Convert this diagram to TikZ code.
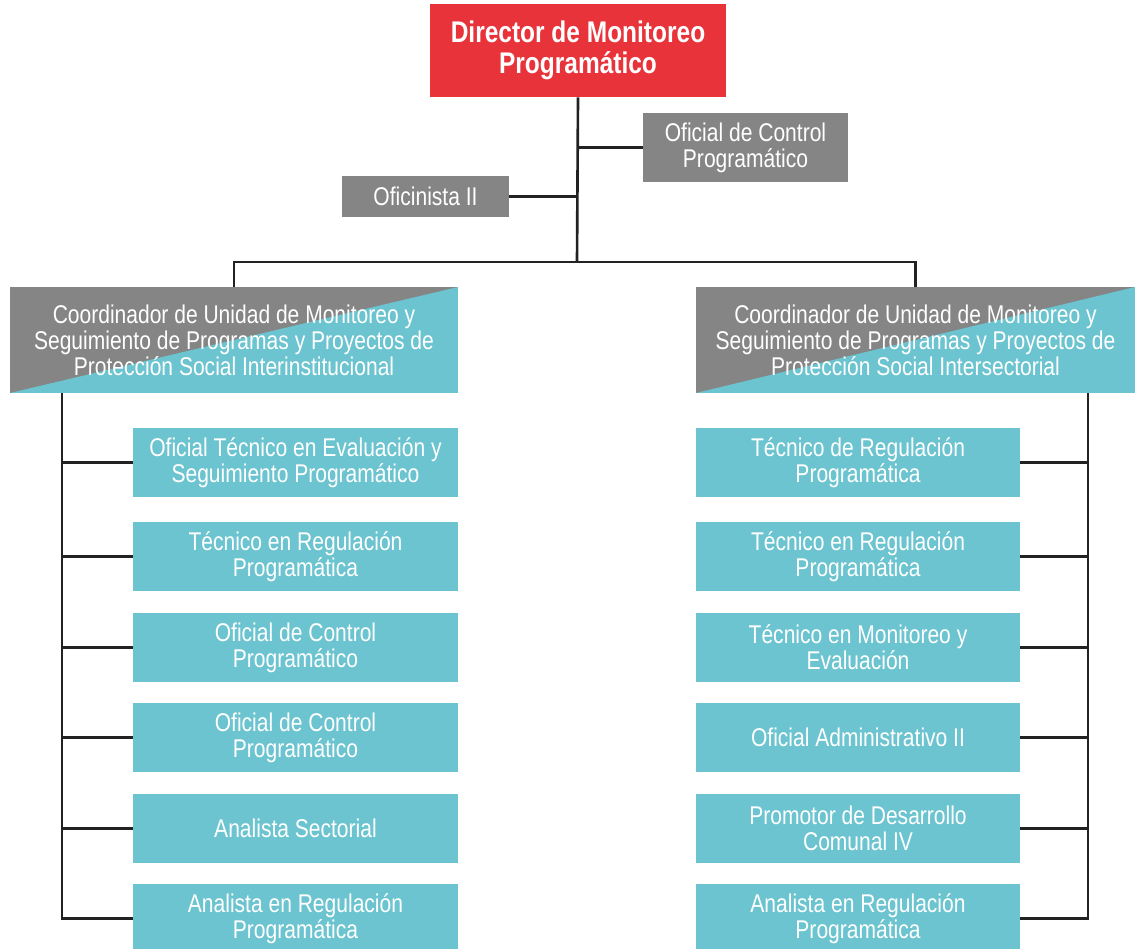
\documentclass[tikz,border=0pt]{standalone}
\usepackage{fontspec}
\setmainfont[FakeStretch=0.82]{Liberation Sans}
\usepackage{tikz}
\usetikzlibrary{calc}
\definecolor{redBox}{HTML}{E8333A}
\definecolor{grayBox}{HTML}{858585}
\definecolor{tealBox}{HTML}{6BC4CF}
\definecolor{lineColor}{HTML}{222222}

\tikzset{
    box/.style={inner sep=0pt, align=center, text=white, font=\fontsize{14.6}{14.8}\selectfont},
    director/.style={box, fill=redBox, minimum width=5.92cm, minimum height=1.86cm,
        font=\bfseries\fontsize{17}{17.6}\selectfont},
    staff/.style={box, fill=grayBox},
    coord/.style={box, fill=grayBox, minimum height=2.12cm,
        path picture={\fill[tealBox] (path picture bounding box.south west)
            -- (path picture bounding box.north east)
            -- (path picture bounding box.south east) -- cycle;}},
    unit/.style={box, fill=tealBox, minimum width=6.5cm, minimum height=1.38cm},
    link/.style={draw=lineColor, line width=1.5pt}
}

\begin{document}
\begin{tikzpicture}[x=0.02cm, y=-0.02cm]
    \useasboundingbox (0,0) rectangle (1135,949);
    % top level
    \node[director] (dir) at (578,50.5) {Director de Monitoreo\\Programático};
    \node[staff, minimum width=4.1cm, minimum height=1.38cm] (ocp) at (745.5,147.5)
        {Oficial de Control\\Programático};
    \node[staff, minimum width=3.34cm, minimum height=0.82cm] (ofi) at (425.5,196.5)
        {Oficinista II};
    \coordinate (bus) at (577,262);
    \draw[link] (dir.south) -- (bus);
    \draw[link] (ocp.west) -- (ocp.west -| dir.south);
    \draw[link] (ofi.east) -- (ofi.east -| dir.south);

    % coordinators
    \node[coord, minimum width=8.96cm] (cl) at (234,340)
        {Coordinador de Unidad de Monitoreo y\\Seguimiento de Programas y Proyectos de\\Protección Social Interinstitucional};
    \node[coord, minimum width=8.78cm] (cr) at (915.5,340)
        {Coordinador de Unidad de Monitoreo y\\Seguimiento de Programas y Proyectos de\\Protección Social Intersectorial};
    \draw[link] (cl.north) |- (bus) -| (cr.north);

    % left units
    \foreach \i/\yy/\txt in {
        1/462.5/{Oficial Técnico en Evaluación y\\Seguimiento Programático},
        2/556.5/{Técnico en Regulación\\Programática},
        3/647.5/{Oficial de Control\\Programático},
        4/737.5/{Oficial de Control\\Programático},
        5/828.5/{Analista Sectorial},
        6/918.5/{Analista en Regulación\\Programática}}
        \node[unit] (l\i) at (295.5,\yy) {\txt};
    \coordinate (ltop) at (62,393);
    \draw[link] (ltop) |- (l6.west);
    \foreach \i in {1,...,5}
        \draw[link] (l\i.west) -- (l\i.west -| ltop);

    % right units
    \foreach \i/\yy/\txt in {
        1/462.5/{Técnico de Regulación\\Programática},
        2/556.5/{Técnico en Regulación\\Programática},
        3/647.5/{Técnico en Monitoreo y\\Evaluación},
        4/737.5/{Oficial Administrativo II},
        5/828.5/{Promotor de Desarrollo\\Comunal IV},
        6/918.5/{Analista en Regulación\\Programática}}
        \node[unit, minimum width=6.48cm] (r\i) at (858,\yy) {\txt};
    \coordinate (rtop) at (1088,393);
    \draw[link] (rtop) |- (r6.east);
    \foreach \i in {1,...,5}
        \draw[link] (r\i.east) -- (r\i.east -| rtop);
\end{tikzpicture}
\end{document}
